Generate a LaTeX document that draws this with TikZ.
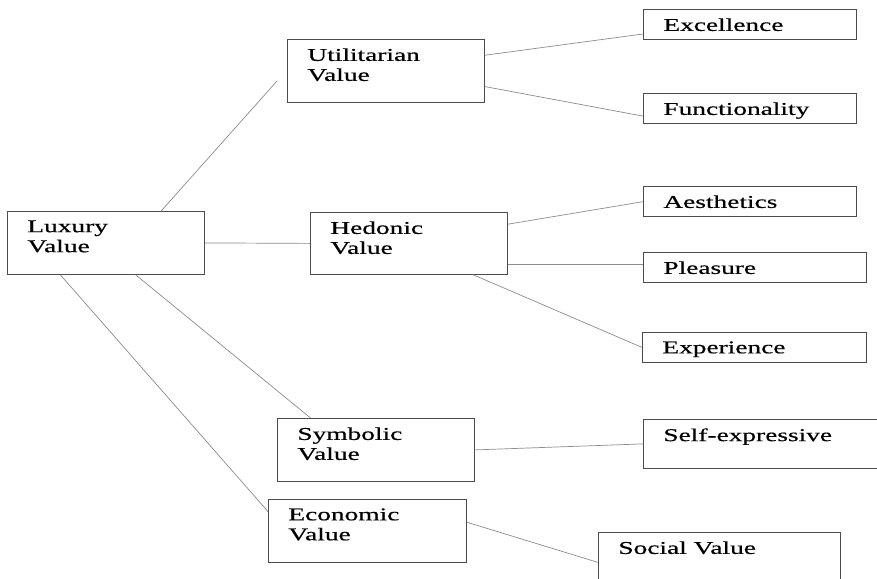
\documentclass[tikz,border=0pt]{standalone}
\usepackage{fontspec}
\newfontfamily\valuefont{Liberation Serif}[FakeStretch=1.52,FakeBold=0.5]
\newcommand{\boxtext}[3]{\parbox[t][\dimexpr#2pt-18pt\relax][t]{\dimexpr#1pt-40pt\relax}{#3}}
\tikzset{
  valbox/.style={draw=black!70,line width=.8pt,anchor=north west,inner xsep=20pt,inner ysep=9pt,
    font=\valuefont\fontsize{18}{20}\selectfont},
  link/.style={draw=black!45,line width=.7pt}
}
\begin{document}
\begin{tikzpicture}[x=1pt,y=-1pt]
  \useasboundingbox[fill=white] (0,0) rectangle (877,578);
  \clip (0,0) rectangle (877,578);
  \node[valbox] (lux) at (7,211) {\boxtext{197}{63}{Luxury\\Value}};
  \node[valbox] (util) at (287,39) {\boxtext{197}{63}{Utilitarian\\Value}};
  \node[valbox] (hed) at (310,212) {\boxtext{197}{62}{Hedonic\\Value}};
  \node[valbox] (sym) at (277,418) {\boxtext{197}{63}{Symbolic\\Value}};
  \node[valbox] (eco) at (268,499) {\boxtext{198}{63}{Economic\\Value}};
  \node[valbox] (exc) at (643,9) {\boxtext{213}{28}{Excellence}};
  \node[valbox] (fun) at (643,93) {\boxtext{213}{30}{Functionality}};
  \node[valbox] (aes) at (643,186) {\boxtext{213}{28}{Aesthetics}};
  \node[valbox] (ple) at (643,252) {\boxtext{223}{30}{Pleasure}};
  \node[valbox] (exp) at (642,332) {\boxtext{224}{30}{Experience}};
  \node[valbox] (self) at (643,419) {\boxtext{240}{49}{Self-expressive}};
  \node[valbox] (soc) at (598,532) {\boxtext{242}{60}{Social Value}};
  \coordinate (util-end) at (277,81);
  \draw[link] (lux.30) -- (util-end);
  \draw[link] (lux.east) -- (hed.west);
  \draw[link] (lux.-47) -- (sym.154);
  \draw[link] (lux.215) -- (eco.169);
  \draw[link] (util.9) -- (exc.185);
  \draw[link] (util.-9.5) -- (fun.184);
  \draw[link] (hed.11.5) -- (aes.west);
  \draw[link] (hed.-12) -- (hed.-12 -| ple.west);
  \draw[link] (hed.-26) -- (exp.west);
  \draw[link] (sym.east) -- (self.west);
  \draw[link] (eco.5) -- (soc.west);
\end{tikzpicture}
\end{document}
